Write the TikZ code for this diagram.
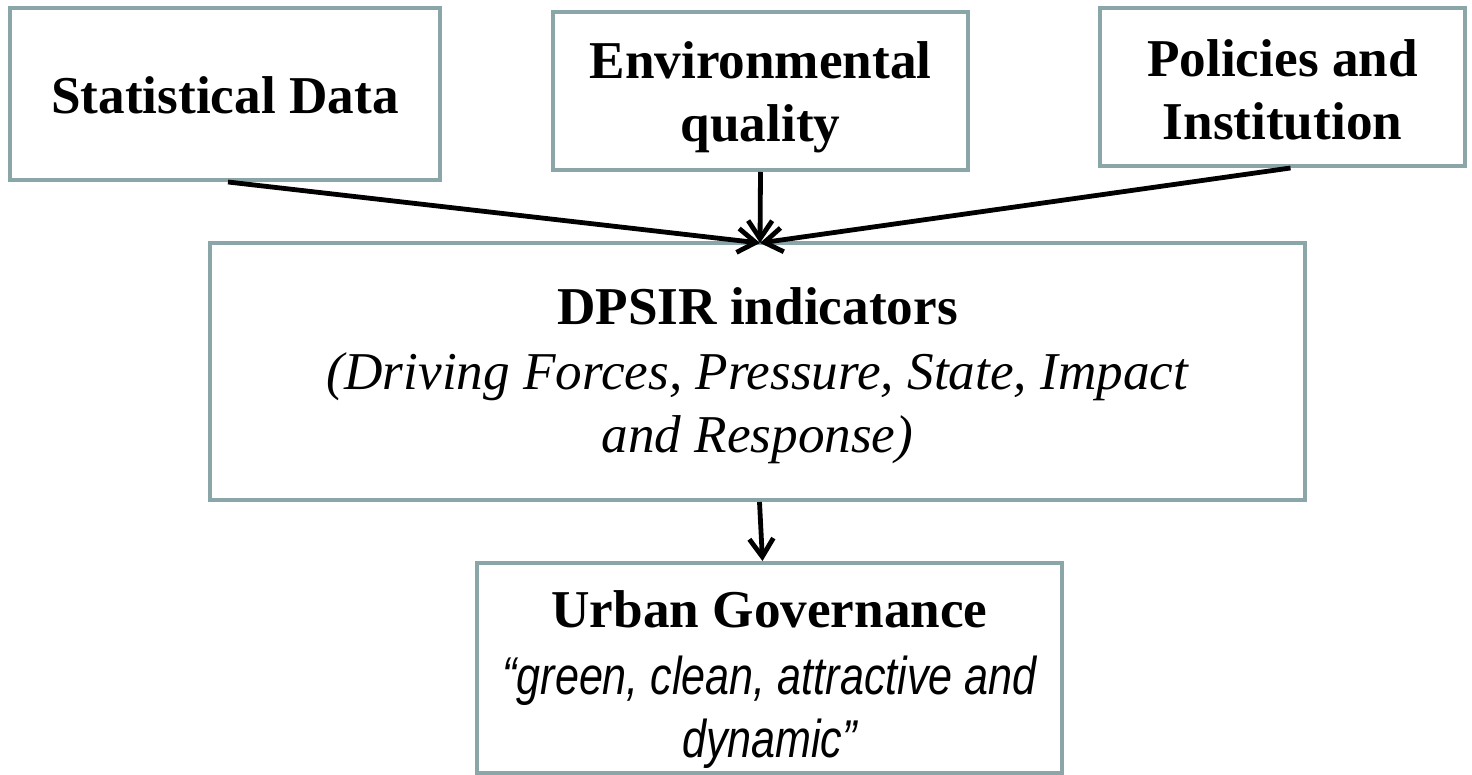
\documentclass[tikz,border=0pt]{standalone}
\usepackage{fontspec}
\setmainfont{Liberation Serif}
\newfontfamily\narrowsans[FakeStretch=0.81]{Liberation Sans}
\usetikzlibrary{positioning, arrows.meta}
\definecolor{boxgray}{HTML}{8BA6A9}
\newcommand{\topgap}[1]{\rule{0pt}{#1}}

\begin{document}
\begin{tikzpicture}[x=0.5pt, y=-0.5pt, thick,
  box node/.style={rectangle, draw=boxgray, line width=2pt, align=center,
    inner sep=0pt, font=\fontsize{26.6}{31.5}\selectfont},
  link/.style={line width=2.4pt, -{Straight Barb[length=9pt, width=12pt]}}]

\useasboundingbox (0,0) rectangle (1472,775);

\node[box node, minimum width=215pt, minimum height=86pt] (stat) at (225,94)
  {\topgap{20pt}\bfseries Statistical Data};
\node[box node, minimum width=207.5pt, minimum height=79pt] (env) at (760.5,91)
  {\topgap{25pt}\bfseries Environmental\\ \bfseries quality};
\node[box node, minimum width=182.5pt, minimum height=79pt] (pol) at (1282.5,87)
  {\topgap{21pt}\bfseries Policies and\\ \bfseries Institution};
\node[box node, minimum width=547.5pt, minimum height=128.5pt] (dpsir) at (757.5,371.5)
  {\topgap{23pt}\bfseries DPSIR indicators\\[1pt] \itshape (Driving Forces, Pressure, State, Impact\\ \itshape and Response)};
\node[box node, minimum width=292.5pt, minimum height=105pt] (urban) at (769.5,668)
  {\topgap{30pt}\bfseries Urban Governance\\[2pt] {\narrowsans\itshape “green, clean, attractive and}\\ {\narrowsans\itshape dynamic”}};

\coordinate (hit) at (760,243);
\path (stat.south) ++(3,0) coordinate (s1);
\path (pol.south) ++(8,0) coordinate (p1);
\path (dpsir.south) ++(2,0) coordinate (d1);
\path (urban.north) ++(-7,0) coordinate (u1);

\draw[link] (s1) -- (hit);
\draw[link] (env.south) -- (hit);
\draw[link] (p1) -- (hit);
\draw[link] (d1) -- (u1);

\end{tikzpicture}
\end{document}
